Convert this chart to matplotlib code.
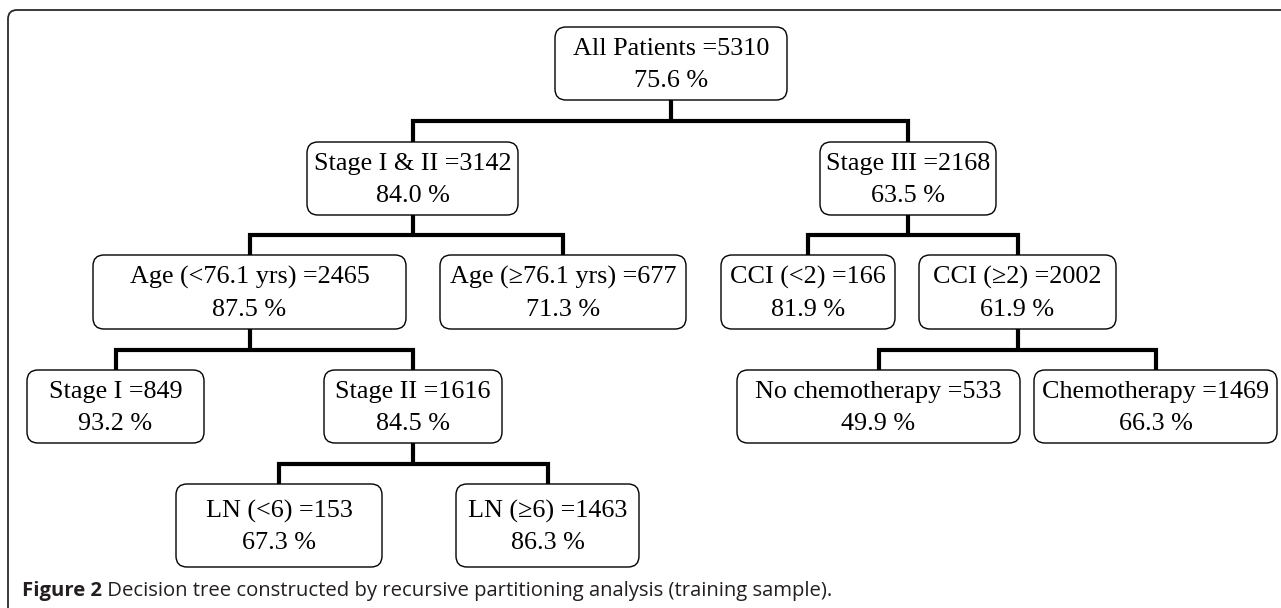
import matplotlib
matplotlib.use("Agg")
import matplotlib.pyplot as plt
from matplotlib.patches import FancyBboxPatch
from matplotlib import transforms

# node data
labels = ["All Patients", "Stage I & II", "Stage III", "Age (<76.1 yrs)", "Age (≥76.1 yrs)",
          "CCI (<2)", "CCI (≥2)", "Stage I", "Stage II", "No chemotherapy", "Chemotherapy",
          "LN (<6)", "LN (≥6)"]
counts = [5310, 3142, 2168, 2465, 677, 166, 2002, 849, 1616, 533, 1469, 153, 1463]
survival = [75.6, 84.0, 63.5, 87.5, 71.3, 81.9, 61.9, 93.2, 84.5, 49.9, 66.3, 67.3, 86.3]
parents = [None, 0, 0, 1, 1, 2, 2, 3, 3, 6, 6, 8, 8]

caption_bold = "Figure 2"
caption_text = " Decision tree constructed by recursive partitioning analysis (training sample)."

# box layout in pixels: (x0, x1, y0, y1), y measured from top
boxes = [
    (555, 787, 27, 100),
    (307, 518, 142, 215), (820, 996, 142, 215),
    (93, 406, 255, 329), (440, 686, 255, 329), (721, 895, 255, 329), (919, 1116, 255, 329),
    (27, 204, 370, 443), (324, 502, 370, 443), (737, 1020, 370, 443), (1034, 1277, 370, 443),
    (176, 382, 484, 567), (456, 639, 484, 567),
]

W, H = 1281, 608
fig = plt.figure(figsize=(W / 100, H / 100), dpi=100)
ax = fig.add_axes([0, 0, 1, 1])
ax.set_xlim(0, W)
ax.set_ylim(H, 0)
ax.axis("off")

# outer frame (only top and left visible)
frame = FancyBboxPatch((8, 10), W + 50, H + 50, boxstyle="round,pad=0,rounding_size=9",
                       fc="none", ec="#2a2a2a", lw=1.3)
ax.add_patch(frame)

# boxes + text
for i, (x0, x1, y0, y1) in enumerate(boxes):
    p = FancyBboxPatch((x0, y0), x1 - x0, y1 - y0, boxstyle="round,pad=0,rounding_size=11",
                       fc="white", ec="black", lw=1.0, zorder=3)
    ax.add_patch(p)
    ax.text((x0 + x1) / 2, (y0 + y1) / 2 + 1.5, f"{labels[i]} ={counts[i]}\n{survival[i]:.1f} %",
            ha="center", va="center", fontsize=18.8, family="Liberation Serif",
            linespacing=1.55, zorder=4)

# connectors
lw = 3.0
for p in range(len(labels)):
    kids = [k for k in range(len(labels)) if parents[k] == p]
    if not kids:
        continue
    px0, px1, py0, py1 = boxes[p]
    pc = (px0 + px1) / 2
    k1, k2 = kids[0], kids[-1]
    ky = boxes[k1][2]
    mid = (py1 + ky) / 2
    c1 = (boxes[k1][0] + boxes[k1][1]) / 2
    c2 = (boxes[k2][0] + boxes[k2][1]) / 2
    ax.plot([pc, pc], [py1, mid], color="black", lw=lw, solid_capstyle="butt", zorder=2)
    ax.plot([c1, c1, c2, c2], [ky, mid, mid, ky], color="black", lw=lw,
            solid_joinstyle="miter", solid_capstyle="butt", zorder=2)

# caption
t1 = ax.text(22, 591, caption_bold, ha="left", va="center", fontsize=14.6,
             family="Open Sans", weight="bold", color="#231f20")
fig.canvas.draw()
bb = t1.get_window_extent(fig.canvas.get_renderer())
ax.text(bb.x1, 591, caption_text, ha="left", va="center", fontsize=14.6,
        family="Open Sans", weight="medium", color="#231f20",
        transform=transforms.blended_transform_factory(transforms.IdentityTransform(), ax.transData))

fig.savefig("out.png", dpi=100)
